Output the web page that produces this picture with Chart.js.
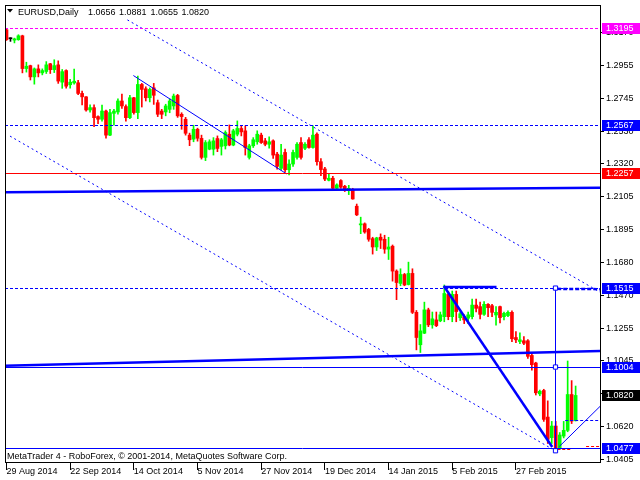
<!DOCTYPE html>
<html><head><meta charset="utf-8">
<script src="https://cdn.jsdelivr.net/npm/chart.js@4"></script>
<style>html,body{margin:0;padding:0;background:#fff;overflow:hidden}canvas{display:block}</style>
</head><body>
<canvas id="c" width="640" height="480"></canvas>
<script>
// ---- data ----
const symbolTitle = 'EURUSD,Daily';
const footerText = 'MetaTrader 4 - RoboForex, \u00A9 2001-2014, MetaQuotes Software Corp.';
const dateLabels = ['29 Aug 2014','22 Sep 2014','14 Oct 2014','5 Nov 2014','27 Nov 2014','19 Dec 2014','14 Jan 2015','5 Feb 2015','27 Feb 2015'];
const dateTickBars = [0,16,32,48,64,80,96,112,128];
const priceTicks = [1.3170,1.2955,1.2745,1.2530,1.2320,1.2105,1.1895,1.1680,1.1470,1.1255,1.1045,1.0830,1.0620,1.0405];
const xMin = -0.375, xMax = 149.125;
const yMin = 1.03892, yMax = 1.33474;

const opens=[1.3187,1.3129,1.3120,1.3123,1.3148,1.2936,1.2955,1.2882,1.2934,1.2908,
1.2917,1.2967,1.2929,1.2960,1.2848,1.2923,1.2831,1.2843,1.2844,1.2775,
1.2753,1.2668,1.2683,1.2625,1.2608,1.2661,1.2505,1.2646,1.2655,1.2726,
1.2690,1.2618,1.2747,1.2651,1.2833,1.2805,1.2747,1.2811,1.2715,1.2661,
1.2655,1.2672,1.2694,1.2762,1.2640,1.2608,1.2505,1.2479,1.2543,1.2484,
1.2361,1.2414,1.2414,1.2483,1.2432,1.2436,1.2511,1.2441,1.2511,1.2548,
1.2533,1.2361,1.2436,1.2462,1.2505,1.2468,1.2446,1.2468,1.2382,1.2290,
1.2393,1.2281,1.2318,1.2361,1.2457,1.2420,1.2475,1.2425,1.2511,1.2333,
1.2286,1.2213,1.2226,1.2161,1.2211,1.2174,1.2146,1.2152,1.2045,1.1924,
1.1931,1.1895,1.1835,1.1781,1.1844,1.1831,1.1767,1.1786,1.1625,1.1545,
1.1603,1.1538,1.1610,1.1358,1.1148,1.1223,1.1374,1.1277,1.1309,1.1303,
1.1330,1.1474,1.1330,1.1474,1.1323,1.1330,1.1320,1.1330,1.1405,1.1395,
1.1345,1.1410,1.1401,1.1341,1.1395,1.1330,1.1337,1.1358,1.1195,1.1169,
1.1174,1.1174,1.1079,1.1030,1.0830,1.0852,1.0680,1.0547,1.0622,1.0478,
1.0557,1.0594,1.0826,1.0656];
const highs=[1.3192,1.3135,1.3133,1.3155,1.3152,1.2977,1.2958,1.2940,1.2960,1.2934,
1.2981,1.2970,1.2993,1.2986,1.2930,1.2928,1.2866,1.2932,1.2860,1.2790,
1.2755,1.2702,1.2702,1.2630,1.2700,1.2668,1.2672,1.2672,1.2740,1.2771,
1.2702,1.2762,1.2750,1.2888,1.2840,1.2818,1.2811,1.2840,1.2732,1.2672,
1.2705,1.2740,1.2771,1.2769,1.2650,1.2620,1.2518,1.2569,1.2550,1.2505,
1.2470,1.2475,1.2489,1.2500,1.2484,1.2533,1.2571,1.2543,1.2597,1.2565,
1.2565,1.2446,1.2489,1.2533,1.2518,1.2484,1.2494,1.2475,1.2393,1.2446,
1.2414,1.2345,1.2409,1.2457,1.2489,1.2457,1.2489,1.2565,1.2520,1.2354,
1.2297,1.2256,1.2239,1.2190,1.2217,1.2180,1.2180,1.2161,1.2059,1.1974,
1.1937,1.1902,1.1844,1.1844,1.1866,1.1857,1.1844,1.1794,1.1633,1.1640,
1.1610,1.1683,1.1640,1.1370,1.1279,1.1424,1.1385,1.1360,1.1360,1.1360,
1.1535,1.1492,1.1496,1.1496,1.1360,1.1342,1.1360,1.1444,1.1444,1.1424,
1.1428,1.1415,1.1410,1.1395,1.1398,1.1360,1.1367,1.1367,1.1233,1.1226,
1.1201,1.1181,1.1098,1.1035,1.0855,1.0860,1.0785,1.0652,1.0652,1.0580,
1.0652,1.1043,1.0916,1.0881];
const lows=[1.3118,1.3112,1.3102,1.3119,1.2908,1.2913,1.2862,1.2835,1.2882,1.2895,
1.2904,1.2904,1.2910,1.2840,1.2808,1.2809,1.2809,1.2835,1.2767,1.2700,
1.2660,1.2654,1.2560,1.2579,1.2595,1.2485,1.2502,1.2570,1.2640,1.2678,
1.2595,1.2612,1.2640,1.2612,1.2687,1.2726,1.2720,1.2704,1.2625,1.2612,
1.2630,1.2650,1.2672,1.2620,1.2543,1.2505,1.2437,1.2462,1.2466,1.2350,
1.2340,1.2410,1.2376,1.2398,1.2376,1.2415,1.2436,1.2436,1.2500,1.2500,
1.2376,1.2350,1.2425,1.2446,1.2451,1.2436,1.2420,1.2355,1.2285,1.2280,
1.2265,1.2247,1.2303,1.2350,1.2350,1.2411,1.2420,1.2420,1.2311,1.2243,
1.2211,1.2208,1.2158,1.2155,1.2161,1.2140,1.2120,1.2090,1.1984,1.1867,
1.1870,1.1818,1.1735,1.1758,1.1771,1.1740,1.1700,1.1560,1.1440,1.1530,
1.1530,1.1535,1.1350,1.1115,1.1098,1.1220,1.1265,1.1255,1.1265,1.1297,
1.1297,1.1310,1.1297,1.1297,1.1305,1.1285,1.1285,1.1316,1.1360,1.1316,
1.1338,1.1330,1.1330,1.1275,1.1290,1.1309,1.1330,1.1168,1.1161,1.1155,
1.1149,1.1060,1.0983,1.0823,1.0818,1.0652,1.0509,1.0509,1.0462,1.0470,
1.0545,1.0585,1.0638,1.0655];
const closes=[1.3123,1.3129,1.3128,1.3148,1.2936,1.2951,1.2882,1.2934,1.2908,1.2923,
1.2960,1.2929,1.2955,1.2855,1.2916,1.2822,1.2848,1.2854,1.2775,1.2753,
1.2668,1.2683,1.2618,1.2608,1.2661,1.2505,1.2651,1.2661,1.2726,1.2694,
1.2618,1.2747,1.2651,1.2833,1.2801,1.2747,1.2801,1.2763,1.2640,1.2640,
1.2694,1.2726,1.2758,1.2630,1.2625,1.2517,1.2475,1.2543,1.2485,1.2361,
1.2457,1.2462,1.2468,1.2419,1.2475,1.2522,1.2441,1.2533,1.2548,1.2526,
1.2425,1.2436,1.2475,1.2511,1.2457,1.2446,1.2462,1.2376,1.2303,1.2376,
1.2281,1.2318,1.2393,1.2446,1.2361,1.2446,1.2425,1.2505,1.2333,1.2282,
1.2221,1.2226,1.2161,1.2183,1.2168,1.2146,1.2161,1.2092,1.1989,1.1931,
1.1878,1.1831,1.1781,1.1840,1.1825,1.1767,1.1781,1.1625,1.1551,1.1603,
1.1535,1.1610,1.1358,1.1195,1.1238,1.1374,1.1277,1.1316,1.1272,1.1342,
1.1480,1.1330,1.1474,1.1363,1.1349,1.1309,1.1342,1.1405,1.1384,1.1345,
1.1410,1.1388,1.1358,1.1358,1.1324,1.1352,1.1358,1.1187,1.1180,1.1180,
1.1158,1.1073,1.1019,1.0837,1.0847,1.0665,1.0536,1.0622,1.0472,1.0564,
1.0594,1.0826,1.0654,1.0820];

// horizontal levels
const magentaDashLevels = [1.3195];
const blueDashLevels = [1.2567, 1.1515];
const redSolidLevels = [1.2257];
const blueSolidLevels = [1.1004, 1.0477];
// axis price boxes
const boxLevels = [1.3195, 1.2567, 1.2257, 1.1515, 1.1004, 1.0820, 1.0477];
const boxColors = ['#ff00ff','#0000ff','#ff0000','#0000ff','#0000ff','#000000','#0000ff'];
// drawn objects [barIndex, price]
const thickLineUpper = [[xMin,1.2135],[xMax,1.2164]];
const thickLineLower = [[xMin,1.1013],[xMax,1.1108]];
const channelUpper = [[30.375,1.3251],[xMax,1.1489]];
const channelLower = [[0.875,1.2499],[137.125,1.0473]];
const thinTrend = [[31.875,1.2891],[70.375,1.2254]];
const thickDrop = [[109.875,1.1528],[137.125,1.0486]];
const thickTop = [[109.875,1.1522],[123.125,1.1522]];
const thickTopDash = [[138.375,1.1510],[xMax,1.1508]];
const verticalMark = [[137.875,1.1515],[137.875,1.0462]];
const markSquares = [[137.875,1.1515],[137.875,1.1004],[137.875,1.0462]];
const risingLine = [[138.875,1.0489],[xMax,1.0749]];
const shortDash = [[140.375,1.0656],[xMax,1.0656]];
const redDashA = [[138.375,1.0473],[142.125,1.0473]];
const redDashB = [[145.625,1.0488],[xMax,1.0488]];

// ---- chart ----
const FONT = 'Liberation Sans';
Chart.defaults.font.family = FONT;
Chart.defaults.font.size = 9;
Chart.defaults.color = '#000';

const idx = opens.map((_, i) => i);
const candleColors = idx.map(i => closes[i] === opens[i] ? '#000000' : (closes[i] > opens[i] ? '#00ff00' : '#ff0000'));

function lineDs(points, color, width, dash, snap) {
  return {type:'line', data: points.map(p => ({x:p[0], y:p[1]})), borderColor:color, backgroundColor:color,
    borderWidth:width, borderDash: dash || [], pointRadius:0, fill:false, tension:0, order:1, clip:0, snap: snap || null};
}
function hLines(levels, color, width, dash) {
  return levels.map(v => lineDs([[xMin, v],[xMax, v]], color, width, dash, 'y'));
}

const datasets = [
  ...hLines(magentaDashLevels, '#ff00ff', 1, [3,2]),
  ...hLines(blueDashLevels, '#0000ff', 1, [3,2]),
  ...hLines(redSolidLevels, '#ff0000', 1),
  ...hLines(blueSolidLevels, '#0000ff', 1),
  lineDs(thickLineUpper, '#0000ff', 2.5),
  lineDs(thickLineLower, '#0000ff', 2.5),
  lineDs(channelUpper, '#0000ff', 1, [2,3]),
  lineDs(channelLower, '#0000ff', 1, [2,3]),
  lineDs(thinTrend, '#0000ff', 1),
  lineDs(thickDrop, '#0000ff', 2.5),
  lineDs(thickTop, '#0000ff', 2.5),
  lineDs(thickTopDash, '#0000ff', 2.5, [4,2]),
  lineDs(verticalMark, '#0000ff', 1, null, 'x'),
  lineDs(risingLine, '#0000ff', 1),
  lineDs(shortDash, '#0000ff', 1, [3,2], 'y'),
  lineDs(redDashA, '#ff0000', 1, [3,2], 'y'),
  lineDs(redDashB, '#ff0000', 1, [3,2], 'y'),
  {type:'line', data: markSquares.map(p => ({x:p[0], y:p[1]})), showLine:false, pointStyle:'rect',
    pointRadius:3, pointBackgroundColor:'#ffffff', pointBorderColor:'#0000ff', pointBorderWidth:1, order:0, clip:0, snap:'x'},
  {type:'bar', data: idx.map(i => ({x:i, y:[opens[i], closes[i]]})), backgroundColor: candleColors,
    barThickness:3, minBarLength:1, borderWidth:0, grouped:false, order:2},
  {type:'bar', data: idx.map(i => ({x:i, y:[lows[i], highs[i]]})), backgroundColor: candleColors,
    barThickness:1, borderWidth:0, grouped:false, order:3}
];

// align 1px horizontal / vertical objects to the pixel grid so they stay crisp
const pixelSnap = {
  id: 'pixelSnap',
  beforeDatasetDraw(chart, args) {
    const ds = chart.data.datasets[args.index];
    if (!ds.snap) return;
    const ctx = chart.ctx;
    ctx.save();
    if (ds.snap === 'y') {
      const py = chart.scales.y.getPixelForValue(ds.data[0].y);
      ctx.translate(0, Math.floor(py) + 0.5 - py);
    } else {
      const px = chart.scales.x.getPixelForValue(ds.data[0].x);
      ctx.translate(Math.floor(px) + 0.5 - px, 0);
    }
  },
  afterDatasetDraw(chart, args) {
    const ds = chart.data.datasets[args.index];
    if (ds.snap) chart.ctx.restore();
  }
};

const overlay = {
  id: 'overlay',
  afterDraw(chart) {
    const {ctx, chartArea: a, scales: {y}} = chart;
    ctx.save();
    ctx.strokeStyle = '#000'; ctx.lineWidth = 1; ctx.setLineDash([]);
    ctx.strokeRect(a.left + 0.5, a.top + 0.5, a.right - a.left, a.bottom - a.top);
    ctx.font = '9px "' + FONT + '"';
    ctx.textAlign = 'left'; ctx.textBaseline = 'middle';
    boxLevels.forEach((v, i) => {
      const py = Math.floor(y.getPixelForValue(v));
      ctx.fillStyle = boxColors[i];
      ctx.fillRect(a.right + 2, py - 5, 38, 11);
      ctx.fillStyle = '#ffffff';
      ctx.fillText(v.toFixed(4), a.right + 6, py + 1);
    });
    // header
    ctx.fillStyle = '#000';
    ctx.beginPath(); ctx.moveTo(7, 9); ctx.lineTo(13, 9); ctx.lineTo(10, 12.5); ctx.closePath(); ctx.fill();
    ctx.textBaseline = 'alphabetic';
    const n = opens.length - 1;
    const parts = [symbolTitle, opens[n].toFixed(4), highs[n].toFixed(4), lows[n].toFixed(4), closes[n].toFixed(4)];
    const px = [18, 88, 119, 150.5, 181.5];
    parts.forEach((t, i) => ctx.fillText(t, px[i], 14.5));
    ctx.fillText(footerText, 7, 458.5);
    ctx.restore();
  }
};

new Chart(document.getElementById('c'), {
  type: 'bar',
  data: {datasets},
  options: {
    responsive:false, animation:false, devicePixelRatio:1, events:[],
    layout:{padding:{left:2, top:2, right:0, bottom:0}},
    plugins:{legend:{display:false}, tooltip:{enabled:false}},
    scales:{
      x:{type:'linear', min:xMin, max:xMax, offset:false,
        afterBuildTicks: s => { s.ticks = dateTickBars.map(v => ({value:v})); },
        afterFit: s => { s.height = 18; s.paddingLeft = 0; s.paddingRight = 0; },
        grid:{display:true, drawOnChartArea:false, drawTicks:true, tickLength:8, color:'#000', offset:false},
        border:{display:true, color:'#000'},
        ticks:{align:'start', padding:-4, maxRotation:0, minRotation:0, autoSkip:false,
          callback:(v, i) => dateLabels[i]}
      },
      y:{type:'linear', position:'right', min:yMin, max:yMax,
        afterBuildTicks: s => { s.ticks = priceTicks.map(v => ({value:v})); },
        afterFit: s => { s.width = 40; s.paddingTop = 0; s.paddingBottom = 0; },
        grid:{display:true, drawOnChartArea:false, drawTicks:true, tickLength:4, color:'#000'},
        border:{display:true, color:'#000'},
        ticks:{padding:2, autoSkip:false, callback: v => Number(v).toFixed(4)}
      }
    }
  },
  plugins:[pixelSnap, overlay]
});
</script>
</body></html>
